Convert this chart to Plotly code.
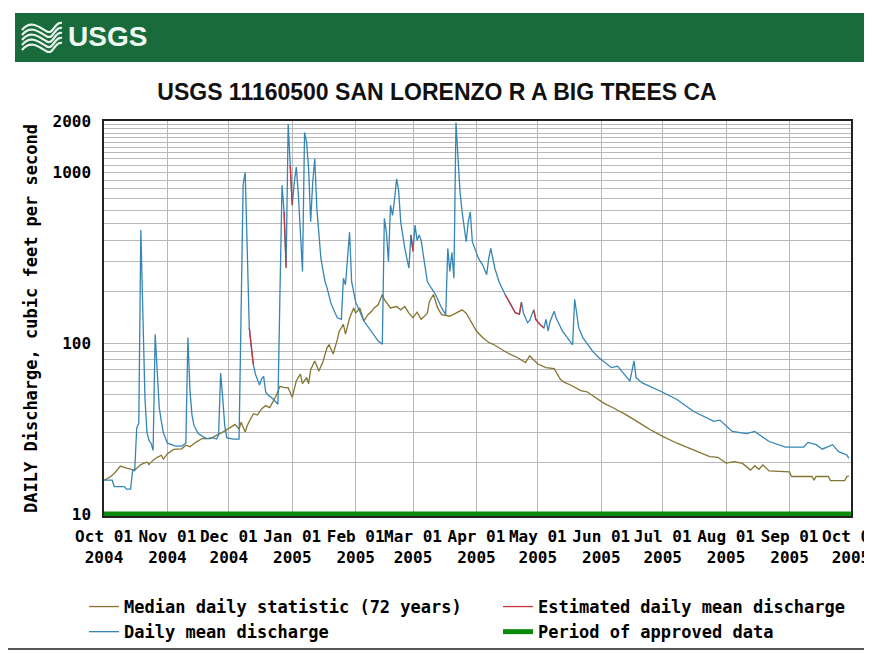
import plotly.graph_objects as go

# ---------------- data ----------------
mean_dates = [
    "2004-10-01", "2004-10-05", "2004-10-06", "2004-10-11", "2004-10-12", "2004-10-14", "2004-10-15",
    "2004-10-16", "2004-10-17", "2004-10-18", "2004-10-19", "2004-10-20", "2004-10-21", "2004-10-22",
    "2004-10-23", "2004-10-24", "2004-10-25", "2004-10-26", "2004-10-27", "2004-10-28", "2004-10-29",
    "2004-10-30", "2004-11-01", "2004-11-05", "2004-11-08", "2004-11-10", "2004-11-11", "2004-11-12",
    "2004-11-13", "2004-11-14", "2004-11-16", "2004-11-20", "2004-11-23", "2004-11-25", "2004-11-26",
    "2004-11-27", "2004-11-28", "2004-11-29", "2004-11-30", "2004-12-03", "2004-12-06", "2004-12-07",
    "2004-12-08", "2004-12-09", "2004-12-10", "2004-12-11", "2004-12-12", "2004-12-13", "2004-12-14",
    "2004-12-16", "2004-12-17", "2004-12-18", "2004-12-19", "2004-12-20", "2004-12-22", "2004-12-24",
    "2004-12-25", "2004-12-26", "2004-12-27", "2004-12-28", "2004-12-29", "2004-12-30", "2004-12-31",
    "2005-01-01", "2005-01-02", "2005-01-03", "2005-01-04", "2005-01-05", "2005-01-06", "2005-01-07",
    "2005-01-08", "2005-01-09", "2005-01-10", "2005-01-11", "2005-01-12", "2005-01-13", "2005-01-14",
    "2005-01-15", "2005-01-17", "2005-01-18", "2005-01-20", "2005-01-23", "2005-01-25", "2005-01-26",
    "2005-01-27", "2005-01-28", "2005-01-29", "2005-01-30", "2005-02-01", "2005-02-05", "2005-02-09",
    "2005-02-12", "2005-02-14", "2005-02-15", "2005-02-16", "2005-02-17", "2005-02-18", "2005-02-19",
    "2005-02-20", "2005-02-21", "2005-02-22", "2005-02-23", "2005-02-25", "2005-02-27", "2005-02-28",
    "2005-03-01", "2005-03-02", "2005-03-03", "2005-03-04", "2005-03-05", "2005-03-06", "2005-03-08",
    "2005-03-10", "2005-03-12", "2005-03-15", "2005-03-17", "2005-03-18", "2005-03-19", "2005-03-20",
    "2005-03-21", "2005-03-22", "2005-03-23", "2005-03-24", "2005-03-25", "2005-03-26", "2005-03-27",
    "2005-03-28", "2005-03-29", "2005-03-30", "2005-04-02", "2005-04-04", "2005-04-06", "2005-04-07",
    "2005-04-08", "2005-04-10", "2005-04-12", "2005-04-15", "2005-04-18", "2005-04-20", "2005-04-22",
    "2005-04-23", "2005-04-24", "2005-04-26", "2005-04-27", "2005-04-29", "2005-04-30", "2005-05-02",
    "2005-05-04", "2005-05-05", "2005-05-06", "2005-05-07", "2005-05-09", "2005-05-10", "2005-05-13",
    "2005-05-17", "2005-05-18", "2005-05-19", "2005-05-20", "2005-05-21", "2005-05-23", "2005-05-28",
    "2005-05-31", "2005-06-02", "2005-06-06", "2005-06-09", "2005-06-12", "2005-06-15", "2005-06-17",
    "2005-06-18", "2005-06-21", "2005-06-30", "2005-07-08", "2005-07-16", "2005-07-26", "2005-07-29",
    "2005-08-04", "2005-08-11", "2005-08-15", "2005-08-22", "2005-08-30", "2005-09-08", "2005-09-10",
    "2005-09-14", "2005-09-17", "2005-09-22", "2005-09-25", "2005-09-29", "2005-09-30",
]
mean_values = [
    15.8, 15.8, 14.5, 14.5, 14.0, 14.0, 18,
    18, 32, 34, 460, 130, 48, 30,
    27, 26, 23.6, 113, 70, 42, 35,
    30, 26, 25, 25, 26, 108, 53,
    38, 33, 29.6, 27.7, 28, 27.5, 29,
    67, 48, 33, 28, 27.5, 27.5, 125,
    850, 1000, 290, 123, 94, 75, 66,
    57, 62, 64, 52, 50, 48, 45,
    44, 201, 840, 588, 277, 1919, 1100,
    643, 879, 1074, 735, 393, 263, 1714,
    1500, 1049, 514, 879, 1203, 618, 420,
    314, 230, 211, 170, 141, 138, 240,
    220, 330, 447, 230, 174, 135, 115,
    103, 98.7, 538, 447, 300, 643, 560,
    700, 918, 780, 514, 359, 275, 431,
    345, 492, 400, 431, 400, 330, 230,
    210, 193, 161, 147, 359, 263, 340,
    240, 1959, 1203, 764, 588, 470, 393,
    514, 588, 393, 314, 288, 252, 314,
    359, 275, 230, 193, 168, 151, 148,
    174, 150, 132, 136, 157, 138, 129,
    123, 138, 118, 134, 154, 140, 118,
    103, 98, 181, 150, 123, 108, 89,
    82, 78.8, 72, 73.5, 66, 60, 78.8,
    63, 58.6, 52.4, 46.9, 40, 34.9, 35.5,
    30.5, 29.6, 30.5, 26.6, 24.7, 24.7, 26.3,
    25.5, 24, 25.5, 23.2, 22.2, 21.2,
]

# estimated daily mean discharge (gaps separate the estimated periods)
est_dates = [
    "2004-12-11", "2004-12-12", "2004-12-13", None,
    "2004-12-28", "2004-12-29", None,
    "2004-12-31", "2005-01-01", None,
    "2005-02-28", "2005-03-01", None,
    "2005-04-15", "2005-04-18", "2005-04-20", "2005-04-22", "2005-04-23", None,
    "2005-04-29", "2005-04-30", "2005-05-02", "2005-05-04",
]
est_values = [
    123, 94, 75, None,
    588, 277, None,
    1100, 643, None,
    431, 345, None,
    193, 168, 151, 148, 174, None,
    157, 138, 129, 123,
]

median_dates = [
    "2004-10-01", "2004-10-04", "2004-10-06", "2004-10-09", "2004-10-12", "2004-10-16", "2004-10-19",
    "2004-10-22", "2004-10-23", "2004-10-25", "2004-10-27", "2004-10-29", "2004-10-30", "2004-11-01",
    "2004-11-04", "2004-11-08", "2004-11-10", "2004-11-12", "2004-11-15", "2004-11-18", "2004-11-22",
    "2004-11-25", "2004-11-28", "2004-12-02", "2004-12-04", "2004-12-06", "2004-12-07", "2004-12-09",
    "2004-12-10", "2004-12-13", "2004-12-15", "2004-12-17", "2004-12-19", "2004-12-21", "2004-12-24",
    "2004-12-26", "2004-12-28", "2004-12-30", "2005-01-01", "2005-01-03", "2005-01-05", "2005-01-06",
    "2005-01-08", "2005-01-09", "2005-01-10", "2005-01-12", "2005-01-14", "2005-01-16", "2005-01-18",
    "2005-01-19", "2005-01-21", "2005-01-23", "2005-01-24", "2005-01-26", "2005-01-27", "2005-01-29",
    "2005-01-31", "2005-02-01", "2005-02-03", "2005-02-05", "2005-02-07", "2005-02-09", "2005-02-10",
    "2005-02-12", "2005-02-14", "2005-02-15", "2005-02-17", "2005-02-18", "2005-02-21", "2005-02-23",
    "2005-02-25", "2005-02-27", "2005-03-01", "2005-03-03", "2005-03-05", "2005-03-08", "2005-03-09",
    "2005-03-11", "2005-03-13", "2005-03-15", "2005-03-19", "2005-03-22", "2005-03-25", "2005-03-27",
    "2005-03-30", "2005-04-01", "2005-04-04", "2005-04-07", "2005-04-09", "2005-04-12", "2005-04-16",
    "2005-04-21", "2005-04-25", "2005-04-27", "2005-05-01", "2005-05-05", "2005-05-09", "2005-05-12",
    "2005-05-14", "2005-05-17", "2005-05-22", "2005-05-25", "2005-05-29", "2005-06-02", "2005-06-07",
    "2005-06-13", "2005-06-21", "2005-06-25", "2005-07-01", "2005-07-08", "2005-07-16", "2005-07-24",
    "2005-07-28", "2005-08-01", "2005-08-05", "2005-08-09", "2005-08-13", "2005-08-15", "2005-08-17",
    "2005-08-19", "2005-08-22", "2005-09-01", "2005-09-02", "2005-09-12", "2005-09-13", "2005-09-14",
    "2005-09-20", "2005-09-21", "2005-09-28", "2005-09-29", "2005-09-30",
]
median_values = [
    15.8, 16.5, 17.3, 19.1, 18.6, 18.1, 19.5,
    20.2, 19.5, 20.7, 21.5, 22.1, 21, 22.6,
    23.9, 24.1, 25.3, 24.8, 26.4, 27.7, 27.7,
    28.9, 30.2, 32.3, 33.5, 31.5, 34.5, 30.2,
    33, 38.7, 38, 41.3, 43.2, 42, 49,
    56, 55, 55, 48.3, 60.4, 66, 58,
    63, 58, 70, 78.8, 68.9, 78, 94.4,
    98, 86.6, 105, 118, 129, 113, 140,
    161, 150, 161, 135, 147, 155, 161,
    168, 193, 180, 168, 161, 164, 157,
    164, 150, 141, 152, 138, 150, 175,
    193, 161, 147, 144, 150, 157, 150,
    129, 118, 108, 101, 99, 94.4, 88,
    82.6, 77, 84.5, 75.6, 72.1, 71, 61.6,
    59, 57, 52.8, 52, 48.3, 44.8, 41.8,
    38.2, 33.4, 31.2, 28.5, 26, 23.8, 21.7,
    21.5, 19.9, 20.3, 19.8, 18.1, 19.2, 18.3,
    19.4, 17.9, 17.7, 16.6, 16.6, 15.8, 16.6,
    16.6, 15.7, 15.7, 16.6, 16.7,
]

approved_dates = ["2004-10-01", "2005-10-01"]
approved_values = [10, 10]

month_ticks = [
    "2004-10-01", "2004-11-01", "2004-12-01", "2005-01-01", "2005-02-01", "2005-03-01", "2005-04-01",
    "2005-05-01", "2005-06-01", "2005-07-01", "2005-08-01", "2005-09-01", "2005-10-01",
]
month_labels = [
    "Oct 01<br>2004", "Nov 01<br>2004", "Dec 01<br>2004", "Jan 01<br>2005", "Feb 01<br>2005",
    "Mar 01<br>2005", "Apr 01<br>2005", "May 01<br>2005", "Jun 01<br>2005", "Jul 01<br>2005",
    "Aug 01<br>2005", "Sep 01<br>2005", "Oct 01<br>2005",
]
y_grid = [10, 20, 30, 40, 50, 60, 70, 80, 90,
          100, 200, 300, 400, 500, 600, 700, 800, 900,
          1000, 1100, 1200, 1300, 1400, 1500, 1600, 1700, 1800, 1900, 2000]
y_labels = ["10", "", "", "", "", "", "", "", "",
            "100", "", "", "", "", "", "", "", "",
            "1000", "", "", "", "", "", "", "", "", "", "2000"]

# ---------------- layout geometry ----------------
# The page body has an 8px margin; positions are given in window pixels and
# shifted by OFF so the figure lands where the reference has it.
OFF = 8
W, H = 872, 654
L, R, T, B = 104 - OFF, 851 - OFF, 121 - OFF, 516 - OFF


def xp(px):
    return (px - OFF - L) / (R - L)


def yp(py):
    return (B - (py - OFF)) / (B - T)


MONO = "DejaVu Sans Mono, Liberation Mono, monospace"
C_MED = "#857530"
C_MEAN = "#3585b5"
C_EST = "#c9343c"
C_OK = "#0a8a0a"
GRID = "#b8b8b8"

fig = go.Figure()
fig.add_trace(go.Scatter(x=median_dates, y=median_values, mode="lines",
                         name="Median daily statistic (72 years)", legendrank=1,
                         line=dict(color=C_MED, width=1.3)))
fig.add_trace(go.Scatter(x=mean_dates, y=mean_values, mode="lines",
                         name="Daily mean discharge", legendrank=3,
                         line=dict(color=C_MEAN, width=1.3)))
fig.add_trace(go.Scatter(x=est_dates, y=est_values, mode="lines",
                         name="Estimated daily mean discharge", legendrank=2,
                         connectgaps=False, line=dict(color=C_EST, width=1.3)))
fig.add_trace(go.Scatter(x=approved_dates, y=approved_values, mode="lines",
                         name="Period of approved data", legendrank=4,
                         line=dict(color=C_OK, width=5)))

shapes = []
# outer frame
shapes.append(dict(type="rect", xref="paper", yref="paper", x0=xp(5), x1=xp(900), y0=yp(649), y1=yp(6),
                   line=dict(color="#222222", width=1.5), fillcolor="rgba(0,0,0,0)", layer="below"))
# header bar
shapes.append(dict(type="rect", xref="paper", yref="paper", x0=xp(15), x1=xp(900), y0=yp(62), y1=yp(13),
                   line=dict(width=0), fillcolor="#196b3c", layer="below"))
# wave logo
for i in range(5):
    y0 = 25 + i * 5
    pts = [(22, y0 + 5), (30, y0 - 5), (38, y0 + 1), (46, y0 + 6), (54, y0 - 4), (62, y0 - 2)]
    path = "M {:.5f},{:.5f}".format(xp(pts[0][0]), yp(pts[0][1]))
    path += " C {:.5f},{:.5f} {:.5f},{:.5f} {:.5f},{:.5f}".format(
        xp(pts[1][0]), yp(pts[1][1]), xp(pts[2][0]), yp(pts[2][1]), xp(pts[3][0]), yp(pts[3][1]))
    path += " S {:.5f},{:.5f} {:.5f},{:.5f}".format(xp(pts[4][0]), yp(pts[4][1]), xp(pts[5][0]), yp(pts[5][1]))
    shapes.append(dict(type="path", xref="paper", yref="paper", path=path,
                       line=dict(color="#e8f3ec", width=2.2), layer="above"))

annotations = [
    dict(text="<b>USGS</b>", xref="paper", yref="paper", x=xp(66), y=yp(37), xanchor="left", yanchor="middle",
         showarrow=False, font=dict(family="Liberation Sans, Arial", size=28, color="#eef7f1")),
]

fig.update_layout(
    width=W, height=H,
    margin=dict(l=L, r=W - R, t=T, b=H - B, pad=0, autoexpand=False),
    paper_bgcolor="white", plot_bgcolor="white",
    template="none",
    showlegend=True,
    title=dict(text="USGS 11160500 SAN LORENZO R A BIG TREES CA", x=(437 - OFF) / W, xanchor="center",
               y=1 - (92 - OFF) / H, yanchor="middle", xref="container", yref="container", automargin=False,
               font=dict(family="Liberation Sans, Arial", size=23, color="#111111", weight="bold")),
    xaxis=dict(type="date", range=["2004-10-01", "2005-10-01 01:00"], tickmode="array", automargin=False,
               tickvals=month_ticks, ticktext=month_labels, ticks="", ticklabelstandoff=5, tickangle=0,
               ticklabeloverflow="allow",
               tickfont=dict(family=MONO, size=16, color="black", weight="bold"),
               showgrid=True, gridcolor=GRID, gridwidth=1,
               showline=True, linecolor="#222222", linewidth=1.5, mirror=True, zeroline=False),
    yaxis=dict(type="log", range=[0.989, 3.30103], tickmode="array", tickvals=y_grid, ticktext=y_labels,
               ticks="", ticklabelstandoff=8, automargin=False,
               tickfont=dict(family=MONO, size=16, color="black", weight="bold"),
               showgrid=True, gridcolor=GRID, gridwidth=1,
               showline=True, linecolor="#222222", linewidth=1.5, mirror=True, zeroline=False,
               title=dict(text="DAILY Discharge, cubic feet per second", standoff=11,
                          font=dict(family=MONO, size=17, color="black", weight="bold"))),
    legend=dict(orientation="h", x=xp(84), xanchor="left", y=yp(589), yanchor="top",
                entrywidth=369, entrywidthmode="pixels", traceorder="normal", itemwidth=30,
                bgcolor="rgba(0,0,0,0)", tracegroupgap=0,
                font=dict(family=MONO, size=17, color="black", weight="bold")),
    shapes=shapes,
    annotations=annotations,
    hovermode=False,
)

fig.write_html("out.html")
